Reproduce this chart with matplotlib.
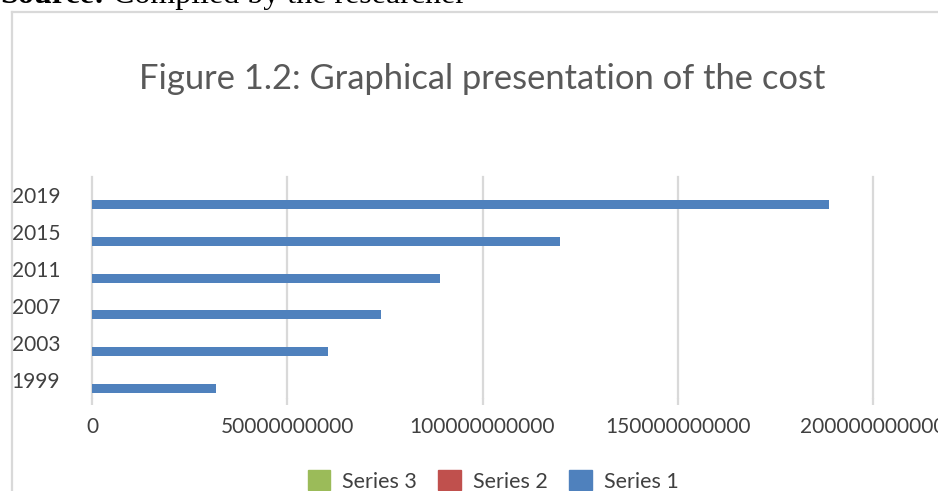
import matplotlib
matplotlib.use("Agg")
import matplotlib.pyplot as plt
from matplotlib.lines import Line2D
from matplotlib.patches import Patch
import numpy as np

# Data
years = ["1999", "2003", "2007", "2011", "2015", "2019"]
series1 = [31.7e9, 60.4e9, 74.0e9, 89.1e9, 119.8e9, 188.7e9]
series2 = [0, 0, 0, 0, 0, 0]
series3 = [0, 0, 0, 0, 0, 0]
x_ticks = [0, 50e9, 100e9, 150e9, 200e9]
x_tick_labels = ["0", "50000000000", "100000000000", "150000000000", "200000000000"]

title = "Figure 1.2: Graphical presentation of the cost"
source_bold = "Source:"
source_rest = " Compiled by the researcher"

W, H = 938, 491
DPI = 100
TEXT = "#404040"
GRID = "#d9d9d9"
C1, C2, C3 = "#4f81bd", "#c0504d", "#9bbb59"
FONT = ["Lato", "DejaVu Sans"]

fig = plt.figure(figsize=(W / DPI, H / DPI), dpi=DPI)
fig.patch.set_facecolor("white")

def px(x0, y0, x1, y1):
    """Convert a pixel box (top-left origin) to figure fractions."""
    return [x0 / W, 1 - y1 / H, (x1 - x0) / W, (y1 - y0) / H]

# Chart frame (left and top border of the embedded chart)
fig.add_artist(Line2D([12 / W, 12 / W], [0, 1 - 12 / H], transform=fig.transFigure,
                      color=GRID, lw=1.6))
fig.add_artist(Line2D([12 / W, 1], [1 - 12 / H, 1 - 12 / H], transform=fig.transFigure,
                      color=GRID, lw=1.6))

# Caption text above the chart, mostly outside the visible area
t1 = fig.text(0 / W, 1 - 3 / H, source_bold, fontsize=23, fontweight="bold",
              family="Liberation Serif", va="baseline", ha="left", color="black")
fig.canvas.draw()
bb = t1.get_window_extent(renderer=fig.canvas.get_renderer())
fig.text(bb.x1 / W, 1 - 3 / H, source_rest, fontsize=23,
         family="Liberation Serif", va="baseline", ha="left", color="black")

# Title
fig.text(482 / W, 1 - 79 / H, title, fontsize=24.8, family=FONT, color="#595959",
         ha="center", va="center")

ax = fig.add_axes(px(92, 177, 873, 398))
y = np.arange(len(years))
h = 0.245
ax.barh(y - h, series1, height=h, color=C1, zorder=3)
ax.barh(y, series2, height=h, color=C2, zorder=3)
ax.barh(y + h, series3, height=h, color=C3, zorder=3)

ax.set_xlim(0, 200e9)
ax.set_ylim(-0.5, len(years) - 0.5)
ax.set_xticks(x_ticks)
ax.set_xticklabels(x_tick_labels)
ax.set_yticks(y)
ax.set_yticklabels(years)

for s in ax.spines.values():
    s.set_visible(False)
ax.grid(axis="x", color=GRID, lw=1.6, zorder=0)
for gl in ax.get_xgridlines():
    gl.set_clip_on(False)
ax.set_axisbelow(True)
ax.tick_params(axis="x", length=5, width=1.6, color=GRID, pad=9,
               labelsize=15, labelcolor=TEXT)
ax.tick_params(axis="y", length=0, pad=23, labelsize=15, labelcolor=TEXT)
for lab in ax.get_xticklabels() + ax.get_yticklabels():
    lab.set_family(FONT)

handles = [Patch(color=C3, label="Series 3"), Patch(color=C2, label="Series 2"),
           Patch(color=C1, label="Series 1")]
fig.legend(handles=handles, loc="center", bbox_to_anchor=(493 / W, 1 - 481 / H),
           ncol=3, frameon=False, prop={"family": FONT, "size": 15.5},
           labelcolor=TEXT, handlelength=1.05, handleheight=1.05,
           handletextpad=0.55, columnspacing=1.0)

fig.savefig("out.png", dpi=DPI)
